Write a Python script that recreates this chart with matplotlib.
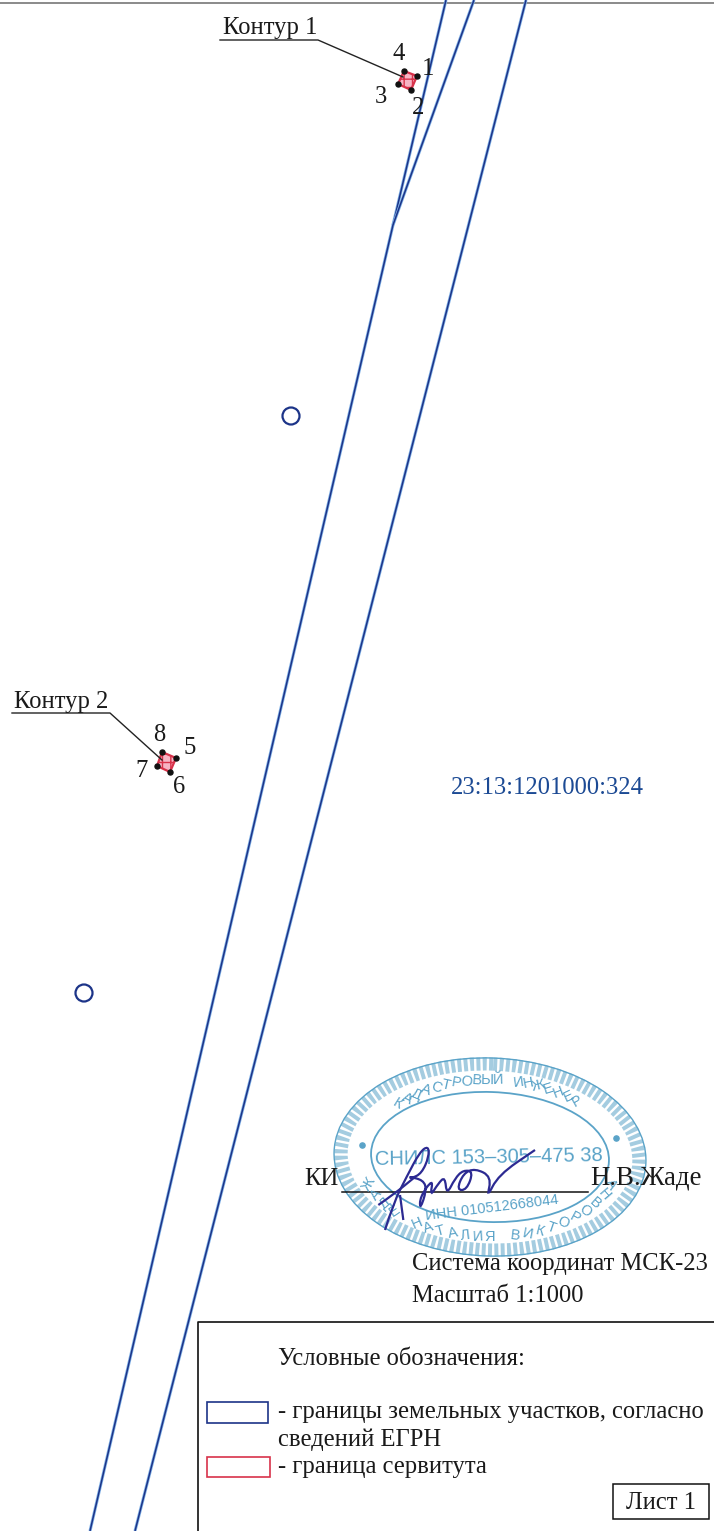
import numpy as np
import matplotlib.pyplot as plt
from matplotlib.path import Path
from matplotlib.patches import Circle, Ellipse, PathPatch, Polygon, Rectangle

plt.rcParams['font.family'] = ['Liberation Serif', 'DejaVu Serif']

# Map geometry in pixels
line_a_x = [446, 393]
line_a_y = [0, 225]
line_b_x = [474, 393, 90]
line_b_y = [0, 225, 1531]
line_c_x = [526, 135]
line_c_y = [0, 1531]

circles_x = [291, 84]
circles_y = [416, 993]

contour_1_x = [404, 417, 411, 398]
contour_1_y = [71, 76, 90, 84]
contour_2_x = [162, 176, 170, 157]
contour_2_y = [752, 758, 772, 766]

point_labels = ['4', '1', '3', '2', '8', '5', '7', '6']
point_labels_x = [399, 428, 381, 418, 159, 190, 142, 179]
point_labels_y = [60, 75, 103, 114, 741, 754, 777, 793]

contour_names = ['Контур 1', 'Контур 2']
contour_names_x = [270, 61]
contour_names_y = [34, 708]
leader_1_x = [220, 318, 403]
leader_1_y = [40, 40, 77]
leader_2_x = [12, 110, 162]
leader_2_y = [713, 713, 760]

parcel_id = '23:13:1201000:324'

sign_main_x = [30, 55, 95, 135, 160, 162, 140, 110, 100, 145, 155, 135, 135, 175, 165, 190,
               210, 215, 240, 265, 295, 275, 245, 265, 300, 350, 335, 370, 480]
sign_main_y = [270, 190, 110, 35, 18, 50, 100, 115, 110, 120, 150, 210, 170, 115, 170, 130,
               110, 165, 115, 90, 95, 150, 150, 100, 85, 110, 175, 105, 30]
sign_cross_x = [10, 60, 115]
sign_cross_y = [195, 160, 115]
sign_tail_x = [75, 85]
sign_tail_y = [165, 240]

stamp_top = 'КАДАСТРОВЫЙ ИНЖЕНЕР'
stamp_bottom = 'ЖАДЕ НАТАЛИЯ ВИКТОРОВНА'
stamp_snils = 'СНИЛС 153–305–475 38'
stamp_inn = 'ИНН 010512668044'

legend_title = 'Условные обозначения:'
legend_rows = ['- границы земельных участков, согласно', 'сведений ЕГРН', '- граница сервитута']
legend_rows_y = [1418, 1446, 1473]

BLUE = '#1c3488'
HALO = '#7fb0e6'
RED = '#d8324a'
STAMP = '#5aa3c8'
INK = '#1a1a1a'
SIZE = 17.7

fig = plt.figure(figsize=(7.14, 15.31), dpi=100)
ax = fig.add_axes([0, 0, 1, 1])
ax.set_xlim(0, 714)
ax.set_ylim(1531, 0)
ax.axis('off')

# Scan edge at the top
ax.plot([0, 714], [3, 3], color='#777777', lw=1.2)

# Parcel boundaries
for xs, ys in [(line_a_x, line_a_y), (line_b_x, line_b_y), (line_c_x, line_c_y)]:
    ax.plot(xs, ys, color=HALO, lw=2.2, solid_capstyle='butt')
    ax.plot(xs, ys, color=BLUE, lw=1.1, solid_capstyle='butt')

for x, y in zip(circles_x, circles_y):
    ax.add_patch(Circle((x, y), 8.5, fill=False, ec=BLUE, lw=1.6))

# Easement contours with their corner points
for xs, ys in [(contour_1_x, contour_1_y), (contour_2_x, contour_2_y)]:
    ax.add_patch(Polygon(list(zip(xs, ys)), closed=True, fc='#f7b4c4', ec=RED, lw=1.6, hatch='++'))
    ax.scatter(xs, ys, s=13, color='#111111', zorder=4)

for label, x, y in zip(point_labels, point_labels_x, point_labels_y):
    ax.text(x, y, label, fontsize=SIZE, color=INK, ha='center', va='baseline')

for name, x, y in zip(contour_names, contour_names_x, contour_names_y):
    ax.text(x, y, name, fontsize=SIZE, color=INK, ha='center', va='baseline')
ax.plot(leader_1_x, leader_1_y, color='#222222', lw=1)
ax.plot(leader_2_x, leader_2_y, color='#222222', lw=1)

ax.text(547, 794, parcel_id, fontsize=SIZE, color='#1c4a94', ha='center', va='baseline')

# Stamp
stamp_c = (490, 1157)
ax.add_patch(Ellipse(stamp_c, 298, 186, angle=2, fill=False, ec=STAMP, lw=9.5, ls=(0, (0.3, 0.18)), alpha=0.55))
ax.add_patch(Ellipse(stamp_c, 312, 198, angle=2, fill=False, ec=STAMP, lw=1))
ax.add_patch(Ellipse(stamp_c, 238, 130, angle=2, fill=False, ec=STAMP, lw=1.3))
ax.scatter([362, 616], [1145, 1138], s=14, color=STAMP)


def arc_text(text, a_from, a_to, rx, ry, flip):
    # even spacing along the ellipse, not along the angle
    dense = np.radians(np.linspace(a_from, a_to, 400))
    steps = np.hypot(np.diff(rx * np.cos(dense)), np.diff(ry * np.sin(dense)))
    length = np.concatenate([[0], np.cumsum(steps)])
    angles = np.interp(np.linspace(0, length[-1], len(text)), length, dense)
    for ch, a in zip(text, angles):
        x = stamp_c[0] + rx * np.cos(a)
        y = stamp_c[1] - ry * np.sin(a)
        rot = np.degrees(np.arctan2(ry * np.cos(a), rx * np.sin(a)))
        rot = rot + 180 if flip else rot
        ax.text(x, y, ch, fontsize=10.5, color=STAMP, ha='center', va='center',
                rotation=rot, rotation_mode='anchor', family='Liberation Sans')


arc_text(stamp_top, 136, 47, 128, 77, False)
arc_text(stamp_bottom, 200, 340, 129, 80, True)
ax.text(489, 1158, stamp_snils, fontsize=14.5, color=STAMP, ha='center', va='center',
        family='Liberation Sans', rotation=1)
ax.text(492, 1208, stamp_inn, fontsize=10.5, color=STAMP, ha='center', va='center',
        family='Liberation Sans', rotation=7)

# Signature line and signature
ax.text(321, 1185, 'КИ', fontsize=SIZE, color=INK, ha='center', va='baseline')
ax.plot([342, 588], [1192, 1192], color='#111111', lw=1.1)
ax.text(646, 1185, 'Н.В.Жаде', fontsize=19.4, color=INK, ha='center', va='baseline')


def sign_stroke(zx, zy):
    pts = np.column_stack([375 + np.array(zx) / 3, 1140 + np.array(zy) / 3])
    verts = [pts[0]]
    codes = [Path.MOVETO]
    for i in range(1, len(pts) - 1):
        verts += [pts[i], (pts[i] + pts[i + 1]) / 2]
        codes += [Path.CURVE3, Path.CURVE3]
    verts.append(pts[-1])
    codes.append(Path.LINETO)
    ax.add_patch(PathPatch(Path(verts, codes), fill=False, ec='#2c2a92', lw=1.6, zorder=5))


sign_stroke(sign_main_x, sign_main_y)
sign_stroke(sign_cross_x, sign_cross_y)
sign_stroke(sign_tail_x, sign_tail_y)

ax.text(412, 1270, 'Система координат МСК-23', fontsize=SIZE, color=INK, ha='left', va='baseline')
ax.text(412, 1302, 'Масштаб 1:1000', fontsize=SIZE, color=INK, ha='left', va='baseline')

# Legend block
ax.plot([198, 198, 714], [1531, 1322, 1322], color='#111111', lw=1.2)
ax.text(278, 1365, legend_title, fontsize=SIZE, color=INK, ha='left', va='baseline')
ax.add_patch(Rectangle((207, 1402), 61, 21, fill=False, ec=BLUE, lw=1.2))
ax.add_patch(Rectangle((207, 1457), 63, 20, fill=False, ec=RED, lw=1.2))
for row, y in zip(legend_rows, legend_rows_y):
    ax.text(278, y, row, fontsize=SIZE, color=INK, ha='left', va='baseline')
ax.add_patch(Rectangle((613, 1484), 96, 35, fill=False, ec='#111111', lw=1.1))
ax.text(661, 1509, 'Лист 1', fontsize=SIZE, color=INK, ha='center', va='baseline')

fig.savefig('out.png', dpi=100)
